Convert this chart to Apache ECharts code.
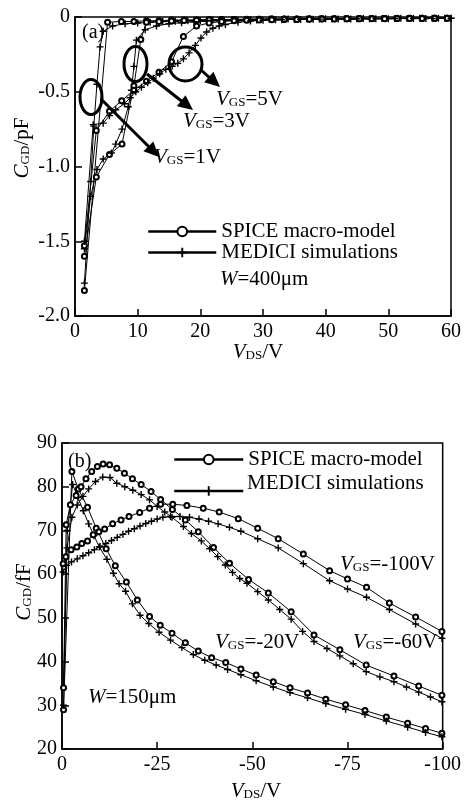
<!DOCTYPE html>
<html><head><meta charset="utf-8">
<script src="https://cdn.jsdelivr.net/npm/echarts@6/dist/echarts.min.js"></script>
<style>html,body{margin:0;padding:0;background:#fff}#c{width:464px;height:800px}</style>
</head><body><div id="c"></div>
<script>
// ---------- (a) VGS = 1, 3, 5 V  (VDS in V, CGD in pF) ----------
const topXTicks = [0, 10, 20, 30, 40, 50, 60];
const topYTicks = [-2.0, -1.5, -1.0, -0.5, 0];
const spice1V = [[1.5,-1.83],[5.2,-0.035],[7.4,-0.03],[9.4,-0.03],[11.4,-0.025],[13.4,-0.025],[15.4,-0.02],[17.4,-0.02],[19.4,-0.02],[21.4,-0.018],[23.4,-0.017],[25.4,-0.016],[27.4,-0.015],[29.4,-0.015],[31.4,-0.014],[33.4,-0.013],[35.4,-0.013],[37.4,-0.012],[39.4,-0.012],[41.4,-0.011],[43.4,-0.011],[45.4,-0.01],[47.4,-0.01],[49.4,-0.01],[51.4,-0.009],[53.4,-0.009],[55.4,-0.009],[57.4,-0.008],[59.4,-0.008]];
const medici1V = [[1.5,-1.78],[2.5,-1.1],[3.0,-0.73],[3.5,-0.45],[4.0,-0.2],[4.5,-0.095],[6,-0.06],[8,-0.045],[10,-0.04],[12,-0.035],[14,-0.03],[16,-0.028],[18,-0.025],[20,-0.023],[22,-0.02],[25,-0.018],[28,-0.016],[31,-0.015],[34,-0.014],[37,-0.013],[40,-0.012],[43,-0.011],[46,-0.01],[49,-0.01],[52,-0.009],[55,-0.009],[58,-0.008],[60,-0.008]];
const spice3V = [[1.5,-1.6],[3.4,-1.07],[5.5,-0.92],[7.5,-0.85],[9.4,-0.46],[10.5,-0.15],[11.4,-0.035],[13.4,-0.03],[15.4,-0.026],[17.4,-0.023],[19.4,-0.021],[21.4,-0.019],[23.4,-0.018],[25.4,-0.017],[27.4,-0.016],[29.4,-0.015],[31.4,-0.014],[33.4,-0.014],[35.4,-0.013],[37.4,-0.013],[39.4,-0.012],[41.4,-0.012],[43.4,-0.011],[45.4,-0.011],[47.4,-0.01],[49.4,-0.01],[51.4,-0.01],[53.4,-0.009],[55.4,-0.009],[57.4,-0.009],[59.4,-0.008]];
const medici3V = [[1.5,-1.55],[2.5,-1.2],[3.5,-1.02],[4.5,-0.95],[5.8,-0.91],[6.5,-0.85],[7.5,-0.75],[8.5,-0.6],[9.0,-0.49],[9.4,-0.33],[9.8,-0.155],[11.2,-0.085],[13,-0.06],[15,-0.045],[17,-0.038],[19,-0.032],[21,-0.028],[23,-0.025],[26,-0.022],[29,-0.02],[32,-0.018],[35,-0.016],[38,-0.015],[41,-0.014],[44,-0.013],[47,-0.012],[50,-0.011],[53,-0.01],[56,-0.01],[59,-0.009]];
const spice5V = [[1.5,-1.53],[3.4,-0.76],[5.5,-0.63],[7.45,-0.56],[9.4,-0.49],[11.4,-0.43],[13.4,-0.37],[15.4,-0.3],[17.3,-0.13],[19.4,-0.06],[21.4,-0.04],[23.4,-0.03],[25.4,-0.025],[27.4,-0.022],[29.4,-0.02],[31.4,-0.018],[33.4,-0.017],[35.4,-0.016],[37.4,-0.015],[39.4,-0.014],[41.4,-0.013],[43.4,-0.012],[45.4,-0.012],[47.4,-0.011],[49.4,-0.011],[51.4,-0.01],[53.4,-0.01],[55.4,-0.01],[57.4,-0.009],[59.4,-0.009]];
const medici5V = [[1.5,-1.5],[2.9,-0.72],[4.5,-0.71],[5.5,-0.66],[6.5,-0.62],[7.9,-0.58],[8.8,-0.54],[9.7,-0.5],[10.6,-0.47],[11.6,-0.44],[12.5,-0.41],[13.5,-0.38],[14.5,-0.35],[15.5,-0.33],[16.4,-0.31],[17.3,-0.28],[18.2,-0.24],[19.2,-0.19],[20.1,-0.14],[21,-0.1],[22,-0.075],[23,-0.06],[24,-0.05],[26,-0.035],[28,-0.027],[30,-0.022],[33,-0.018],[36,-0.016],[39,-0.014],[42,-0.013],[45,-0.012],[48,-0.011],[51,-0.01],[54,-0.01],[57,-0.009],[60,-0.009]];

// ---------- (b) VGS = -20, -60, -100 V  (VDS in V, CGD in fF) ----------
const botXTicks = [0, -25, -50, -75, -100];
const botYTicks = [20, 30, 40, 50, 60, 70, 80, 90];
const spice20 = [[-0.4,29],[-2.6,83.5],[-4.3,79.5],[-6.7,75.3],[-9,70.5],[-11.6,65.8],[-14,61.9],[-16.9,58.2],[-19.8,54.1],[-23,50.3],[-25.8,48.3],[-28.9,46.5],[-32.4,44.3],[-35.8,42.4],[-39.3,40.9],[-43,39.8],[-47,38.3],[-51,36.9],[-55.5,35.4],[-59.9,34],[-64.5,32.8],[-69.3,31.4],[-74.5,30.1],[-79.6,28.8],[-85.2,27.3],[-90.8,25.9],[-95.5,24.7],[-99.8,23.6]];
const medici20 = [[-0.4,34],[-1.4,70],[-2.8,80.5],[-4.2,77.5],[-5.6,74.5],[-7,71.5],[-8.4,68.8],[-9.8,66.2],[-11.8,63.4],[-13.5,60.2],[-15,57.8],[-16.7,56.1],[-18.5,53.2],[-20.5,50.6],[-22.8,48.7],[-25.5,46.7],[-28.5,44.9],[-31.5,43.2],[-34.5,41.6],[-37.5,40.3],[-40.5,39.2],[-43.5,38.2],[-47,37],[-51,35.6],[-55.5,34.2],[-59.9,32.9],[-64.5,31.7],[-69.3,30.4],[-74.5,29.1],[-79.6,27.9],[-85.2,26.4],[-90.8,25],[-95.5,23.8],[-99.8,22.8]];
const spice60 = [[-0.4,34],[-1.1,71.3],[-2.2,75.9],[-3.7,78],[-5,80],[-6.3,81.8],[-7.8,83.5],[-9.3,84.6],[-10.8,85.2],[-12.5,85],[-14.4,84.2],[-16.4,83.1],[-18.5,81.8],[-20.8,80.5],[-23.4,78.9],[-25.9,77.1],[-29,74.8],[-32.4,72.4],[-35.8,69.7],[-39.8,66.1],[-44,62.5],[-49,58.8],[-54.2,55.7],[-60.2,51.4],[-66.2,46.1],[-73,42.7],[-79.9,39.2],[-87.2,36.7],[-93.7,34.4],[-99.8,32.3]];
const medici60 = [[-0.4,30],[-1.3,66],[-2.6,73],[-4,75.8],[-5.5,77.8],[-7,79.5],[-8.8,81.2],[-10.7,82.2],[-12.6,82.1],[-14.4,80.8],[-16.5,80],[-18.6,79.2],[-20.8,78.2],[-23,77],[-25,75.5],[-27,74.2],[-28.9,73],[-31.9,70.9],[-34,69.3],[-36.6,67.6],[-38.8,65.8],[-40.9,64],[-42.9,62.1],[-44.8,60.4],[-46.7,59],[-48.6,57.9],[-51.4,56],[-54.2,54.1],[-57.2,51.9],[-60.2,49.7],[-63.2,46.9],[-66.2,44.6],[-69.6,43],[-73,41.3],[-76.5,39.5],[-79.9,37.7],[-83.5,36.5],[-87.2,35.4],[-90.5,34.2],[-93.7,33],[-96.8,31.9],[-99.8,30.8]];
const spice100 = [[-0.3,62.4],[-1,64],[-2.4,65.6],[-3.9,66.2],[-5.2,67],[-6.7,67.6],[-8.2,69],[-9.7,69.7],[-11.2,70.3],[-13.3,71.5],[-15.5,72.4],[-17.6,73.2],[-20.4,74.1],[-23,75.1],[-25.9,76],[-29.1,76],[-32.8,75.7],[-37.1,75.1],[-41.3,74.2],[-46.3,72.7],[-51.4,70.5],[-56.8,68.1],[-63.4,64.6],[-70.3,60.8],[-75,58.9],[-80,57],[-86,53.4],[-92.9,50.2],[-99.8,46.9]];
const medici100 = [[-0.3,60.5],[-1.2,62],[-2.5,62.8],[-4,63.5],[-5.5,64.2],[-7,64.9],[-8.5,65.6],[-10,66.3],[-11.5,67],[-13,67.7],[-14.5,68.4],[-16,69.1],[-17.5,69.8],[-19,70.4],[-20.5,71],[-22,71.6],[-23.5,72.1],[-25,72.6],[-26.5,73],[-28.5,73.2],[-31,73.2],[-33.5,73],[-36,72.6],[-38.5,72.1],[-41,71.5],[-44,70.7],[-47,69.8],[-51.4,68.1],[-56.8,66],[-63.4,62.4],[-70.3,58.5],[-75,56.6],[-80,54.7],[-86,51.9],[-92.9,48.6],[-99.8,45.3]];

const SPICE = 'SPICE macro-model';
const MEDICI = 'MEDICI simulations';
const F = 'Liberation Serif';
const PLUS = 'path://M2,0H3V2H5V3H3V5H2V3H0V2H2Z';

function rich(size, sub) {
  return {
    i: {fontFamily: F, fontStyle: 'italic', fontSize: size, lineHeight: size + 4, verticalAlign: 'bottom', fill: '#000'},
    s: {fontFamily: F, fontSize: sub, lineHeight: 10, verticalAlign: 'bottom', fill: '#000'},
    n: {fontFamily: F, fontSize: size, lineHeight: size + 4, verticalAlign: 'bottom', fill: '#000'}
  };
}
function label(x, y, text, size, sub, rot) {
  return {type: 'text', x: x, y: y, rotation: rot || 0, z: 100,
    style: {text: text, rich: rich(size, sub || 13), align: rot ? 'center' : 'left', verticalAlign: 'middle', fill: '#000', fontFamily: F, fontSize: size}};
}
function ellipse(cx, cy, rx, ry) {
  return {type: 'ellipse', z: 100, shape: {cx: cx, cy: cy, rx: rx, ry: ry}, style: {fill: 'none', stroke: '#000', lineWidth: 3}};
}
function arrow(x1, y1, x2, y2) {
  const dx = x2 - x1, dy = y2 - y1, L = Math.sqrt(dx * dx + dy * dy);
  const ux = dx / L, uy = dy / L, hl = 15, hw = 7;
  const bx = x2 - ux * hl, by = y2 - uy * hl;
  return [
    {type: 'line', z: 100, shape: {x1: x1, y1: y1, x2: bx + ux * 2, y2: by + uy * 2}, style: {stroke: '#000', lineWidth: 3}},
    {type: 'polygon', z: 100, shape: {points: [[x2, y2], [bx - uy * hw, by + ux * hw], [bx + uy * hw, by - ux * hw]]}, style: {fill: '#000'}}
  ];
}

function ser(name, data, idx) {
  const isSpice = name === SPICE;
  return {
    type: 'line', name: name, xAxisIndex: idx, yAxisIndex: idx, data: data,
    symbol: isSpice ? 'emptyCircle' : PLUS, symbolSize: isSpice ? 5 : 7,
    showSymbol: true, clip: true, silent: true,
    lineStyle: {color: '#000', width: 1},
    itemStyle: {color: '#000', borderWidth: isSpice ? 1 : 0}
  };
}

const axisCommon = {
  axisLine: {show: true, onZero: false, lineStyle: {color: '#000', width: 1.5}},
  axisTick: {show: true, inside: true, length: 7, lineStyle: {color: '#000', width: 1.5}},
  splitLine: {show: false},
  axisLabel: {color: '#000', fontFamily: F, fontSize: 20, margin: 5}
};

const chart = echarts.init(document.getElementById('c'), null, {renderer: 'canvas'});
const option = {
  animation: false,
  backgroundColor: '#fff',
  grid: [
    {left: 75, top: 17, width: 381, height: 299, show: true, borderColor: '#000', borderWidth: 1.5},
    {left: 62, top: 443, width: 390, height: 306, show: true, borderColor: '#000', borderWidth: 1.5}
  ],
  xAxis: [
    Object.assign({}, axisCommon, {type: 'value', gridIndex: 0, min: topXTicks[0], max: topXTicks[topXTicks.length - 1], interval: 10,
      axisLabel: Object.assign({}, axisCommon.axisLabel, {margin: 6, formatter: v => String(v)})}),
    Object.assign({}, axisCommon, {type: 'value', gridIndex: 1, min: botXTicks[botXTicks.length - 1], max: botXTicks[0], interval: 25, inverse: true,
      axisLabel: Object.assign({}, axisCommon.axisLabel, {margin: 6, formatter: v => String(v)})})
  ],
  yAxis: [
    Object.assign({}, axisCommon, {type: 'value', gridIndex: 0, min: topYTicks[0], max: topYTicks[topYTicks.length - 1], interval: 0.5,
      axisLabel: Object.assign({}, axisCommon.axisLabel, {formatter: v => v === 0 ? '0' : v.toFixed(1)})}),
    Object.assign({}, axisCommon, {type: 'value', gridIndex: 1, min: botYTicks[0], max: botYTicks[botYTicks.length - 1], interval: 10,
      axisLabel: Object.assign({}, axisCommon.axisLabel, {formatter: v => String(v)})})
  ],
  legend: [
    {orient: 'vertical', left: 147, top: 221, padding: 0, itemWidth: 68, itemHeight: 12, itemGap: 0, selectedMode: false,
      data: [SPICE, MEDICI], textStyle: {fontFamily: F, fontSize: 21, color: '#000'}, lineStyle: {width: 2.5}},
    {orient: 'vertical', left: 173, top: 449, padding: 0, itemWidth: 69, itemHeight: 12, itemGap: 0, selectedMode: false,
      data: [SPICE], textStyle: {fontFamily: F, fontSize: 21, color: '#000'}, lineStyle: {width: 2.5}},
    {orient: 'vertical', left: 173, top: 485, padding: 0, itemWidth: 69, itemHeight: 12, itemGap: 0, selectedMode: false,
      data: [MEDICI], formatter: () => ' ', textStyle: {fontFamily: F, fontSize: 12, color: '#000'}, lineStyle: {width: 2.5}}
  ],
  series: [
    ser(SPICE, spice1V, 0), ser(MEDICI, medici1V, 0),
    ser(SPICE, spice3V, 0), ser(MEDICI, medici3V, 0),
    ser(SPICE, spice5V, 0), ser(MEDICI, medici5V, 0),
    ser(SPICE, spice20, 1), ser(MEDICI, medici20, 1),
    ser(SPICE, spice60, 1), ser(MEDICI, medici60, 1),
    ser(SPICE, spice100, 1), ser(MEDICI, medici100, 1)
  ],
  graphic: [].concat(
    [
      label(82, 31, '{n|(a)}', 20),
      label(220, 277, '{i|W}{n|=400μm}', 21),
      ellipse(91, 97, 11, 17.5), ellipse(135.5, 64, 11.5, 17.5), ellipse(185.5, 64, 16.5, 17),
      label(154, 155, '{i|V}{s|GS}{n|=1V}', 21),
      label(183, 119, '{i|V}{s|GS}{n|=3V}', 21),
      label(216, 97, '{i|V}{s|GS}{n|=5V}', 21),
      label(20, 148, '{i|C}{s|GD}{n|/pF}', 21, 13, Math.PI / 2),
      label(258, 350, '{i|V}{s|DS}{n|/V}', 21, 13, 0.00001),
      label(68, 460, '{n|(b)}', 20),
      label(247, 481, '{n|MEDICI simulations}', 21),
      label(340, 562, '{i|V}{s|GS}{n|=-100V}', 21),
      label(215, 640, '{i|V}{s|GS}{n|=-20V}', 21),
      label(353, 640, '{i|V}{s|GS}{n|=-60V}', 21),
      label(88, 695, '{i|W}{n|=150μm}', 21),
      label(22, 592, '{i|C}{s|GD}{n|/fF}', 21, 13, Math.PI / 2),
      label(256, 789, '{i|V}{s|DS}{n|/V}', 21, 13, 0.00001)
    ],
    arrow(101, 99, 159, 157),
    arrow(147, 74, 193, 110),
    arrow(201, 70, 220, 87)
  )
};
chart.setOption(option);
</script></body></html>
